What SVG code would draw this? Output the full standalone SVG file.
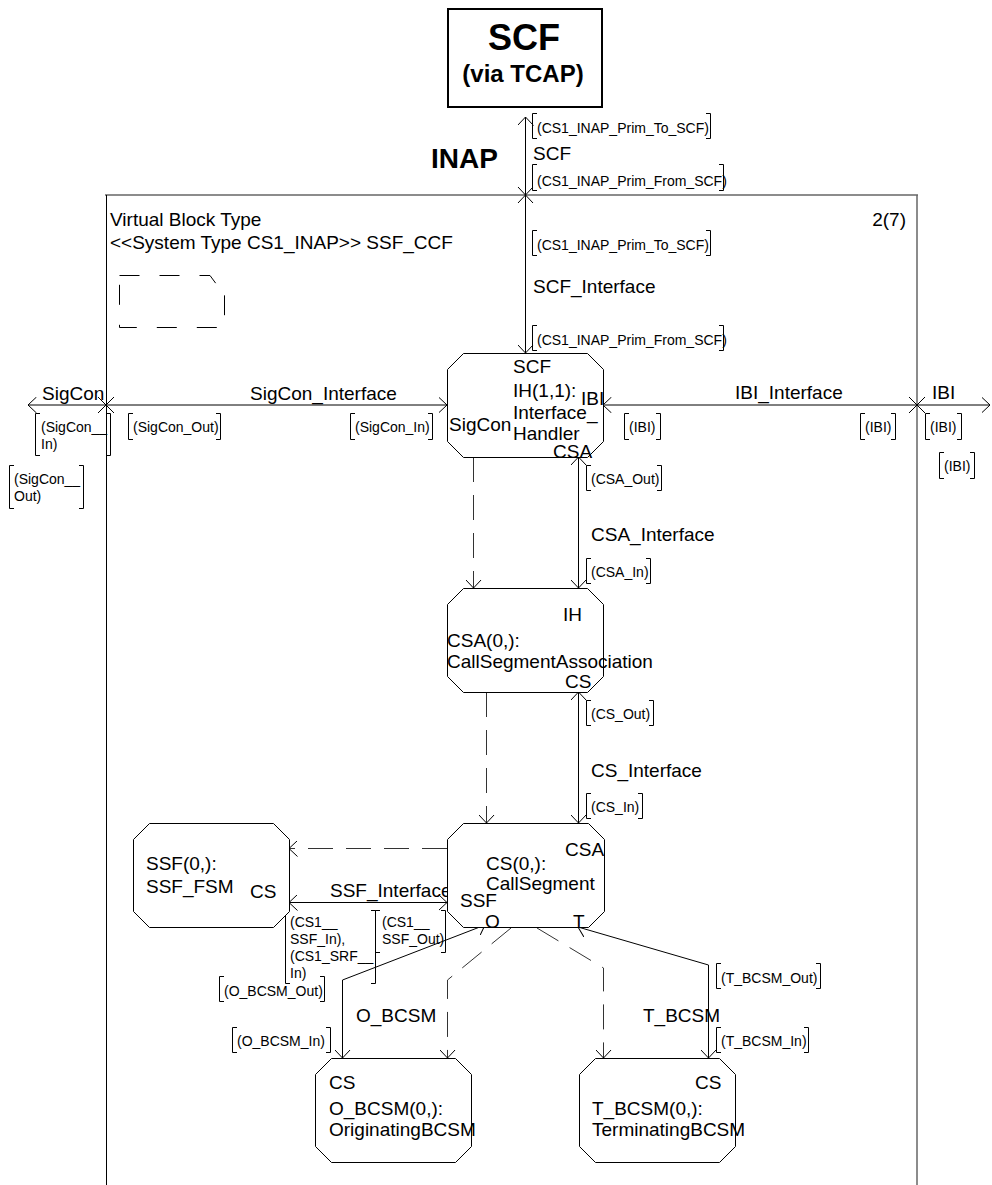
<svg xmlns="http://www.w3.org/2000/svg" width="992" height="1185" viewBox="0 0 992 1185">
<style>
text{font-family:"Liberation Sans",Arial,Helvetica,sans-serif;fill:#000}
.t{font-size:19px}
.s{font-size:14px}
.b{font-weight:bold}
.ln{stroke:#000;stroke-width:1;fill:none}
.dl{stroke:#333;stroke-width:1;fill:none;stroke-dasharray:25 13}
.fr{stroke:#666;stroke-width:1.5;fill:none}
.nd{fill:#fff;stroke:#000;stroke-width:1}
.br{stroke:#000;stroke-width:1;fill:none}
</style>
<defs>
<marker id="a" viewBox="0 0 9 16" refX="8.5" refY="8" markerWidth="9" markerHeight="16" markerUnits="userSpaceOnUse" orient="auto-start-reverse">
<path d="M0,0 L8.5,8 L0,16" fill="none" stroke="#000" stroke-width="1"/>
</marker>
</defs>

<!-- frame -->
<g id="frame">
<line class="fr" x1="105" y1="195" x2="918" y2="195"/>
<line class="ln" x1="106.5" y1="195" x2="106.5" y2="1185"/>
<line class="fr" x1="917" y1="195" x2="917" y2="1185"/>
<text class="t" x="110" y="226">Virtual Block Type</text>
<text class="t" x="110" y="249">&lt;&lt;System Type CS1_INAP&gt;&gt; SSF_CCF</text>
<text class="t" x="906" y="226" text-anchor="end">2(7)</text>
<path d="M119.5,275.5 H210 L217,285 V295.5 H224.5 V327.5 H119.5 Z" fill="none" stroke="#000" stroke-dasharray="20 20"/>
</g>

<g id="SCF_env">
<rect x="448" y="9" width="154" height="98" fill="#fff" stroke="#000" stroke-width="2"/>
<text class="b" x="524" y="50" font-size="36" text-anchor="middle">SCF</text>
<text class="b" x="523" y="82" font-size="24" text-anchor="middle">(via TCAP)</text>
</g>
<text class="b" x="431" y="168" font-size="28">INAP</text>

<!-- connectors -->
<g id="connectors">
<!-- SCF channel -->
<line class="ln" x1="525.5" y1="117" x2="525.5" y2="353" marker-start="url(#a)" marker-end="url(#a)"/>
<path class="ln" d="M518,187 L533,203 M533,187 L518,203"/>
<!-- SigCon channel -->
<line class="ln" x1="28" y1="405" x2="447" y2="405" marker-start="url(#a)" marker-end="url(#a)"/>
<path class="ln" d="M98,397 L114,413 M114,397 L98,413"/>
<!-- IBI channel -->
<line class="ln" x1="603" y1="405" x2="990" y2="405" marker-start="url(#a)" marker-end="url(#a)"/>
<path class="ln" d="M909,397 L925,413 M925,397 L909,413"/>
<!-- CSA interface -->
<line class="ln" x1="578.5" y1="457" x2="578.5" y2="588" marker-start="url(#a)" marker-end="url(#a)"/>
<!-- CS interface -->
<line class="ln" x1="578.5" y1="692" x2="578.5" y2="823" marker-start="url(#a)" marker-end="url(#a)"/>
<!-- SSF interface -->
<line class="ln" x1="289" y1="902.5" x2="447" y2="902.5" marker-start="url(#a)" marker-end="url(#a)"/>
<!-- O_BCSM -->
<path class="ln" d="M485,925 L342.5,980 L342.5,1058" marker-start="url(#a)" marker-end="url(#a)"/>
<!-- T_BCSM -->
<path class="ln" d="M578,927 L708.5,965 L708.5,1058" marker-start="url(#a)" marker-end="url(#a)"/>
<!-- create lines -->
<line class="dl" x1="473.5" y1="457" x2="473.5" y2="588" marker-end="url(#a)"/>
<line class="dl" x1="486.5" y1="692" x2="486.5" y2="823" marker-end="url(#a)"/>
<line class="dl" x1="447" y1="848.5" x2="289" y2="848.5" marker-end="url(#a)"/>
<path class="dl" d="M511,928 L447.5,980 L447.5,1058" marker-end="url(#a)"/>
<path class="dl" d="M537,928 L603.5,968 L603.5,1058" marker-end="url(#a)"/>
</g>

<!-- labels and signal lists -->
<g id="labels">
<path class="br" d="M537,113.5 H532.5 V138.5 H537 M706,113.5 H710.5 V138.5 H706"/>
<text class="s" x="537" y="133">(CS1_INAP_Prim_To_SCF)</text>
<text class="t" x="533" y="160">SCF</text>
<path class="br" d="M537,164.5 H532.5 V190.5 H537 M719,164.5 H723.5 V190.5 H719"/>
<text class="s" x="537" y="186">(CS1_INAP_Prim_From_SCF)</text>

<path class="br" d="M537,230.5 H532.5 V255.5 H537 M706,230.5 H710.5 V255.5 H706"/>
<text class="s" x="537" y="250">(CS1_INAP_Prim_To_SCF)</text>
<text class="t" x="533" y="293">SCF_Interface</text>
<path class="br" d="M537,325.5 H532.5 V350.5 H537 M719,325.5 H723.5 V350.5 H719"/>
<text class="s" x="537" y="345">(CS1_INAP_Prim_From_SCF)</text>

<text class="t" x="42" y="400">SigCon</text>
<text class="t" x="250" y="400">SigCon_Interface</text>
<path class="br" d="M40,413.5 H35.5 V455.5 H40 M106,413.5 H110.5 V455.5 H106"/>
<text class="s" x="41" y="432">(SigCon__</text>
<text class="s" x="41" y="449">In)</text>
<path class="br" d="M14,465.5 H9.5 V508.5 H14 M79,465.5 H83.5 V508.5 H79"/>
<text class="s" x="14" y="484">(SigCon__</text>
<text class="s" x="14" y="501">Out)</text>
<path class="br" d="M133,413.5 H128.5 V439.5 H133 M216,413.5 H220.5 V439.5 H216"/>
<text class="s" x="133" y="432">(SigCon_Out)</text>
<path class="br" d="M355,413.5 H350.5 V439.5 H355 M428,413.5 H432.5 V439.5 H428"/>
<text class="s" x="355" y="432">(SigCon_In)</text>

<text class="t" x="735" y="399">IBI_Interface</text>
<text class="t" x="932" y="399">IBI</text>
<path class="br" d="M629,413.5 H624.5 V439.5 H629 M656,413.5 H660.5 V439.5 H656"/>
<text class="s" x="629" y="432">(IBI)</text>
<path class="br" d="M865,413.5 H860.5 V439.5 H865 M891,413.5 H895.5 V439.5 H891"/>
<text class="s" x="865" y="432">(IBI)</text>
<path class="br" d="M930,413.5 H925.5 V439.5 H930 M957,413.5 H961.5 V439.5 H957"/>
<text class="s" x="930" y="432">(IBI)</text>
<path class="br" d="M944,452.5 H939.5 V478.5 H944 M970,452.5 H974.5 V478.5 H970"/>
<text class="s" x="944" y="471">(IBI)</text>

<path class="br" d="M591,465.5 H586.5 V490.5 H591 M657,465.5 H661.5 V490.5 H657"/>
<text class="s" x="591" y="484">(CSA_Out)</text>
<text class="t" x="591" y="541">CSA_Interface</text>
<path class="br" d="M591,558.5 H586.5 V583.5 H591 M646,558.5 H650.5 V583.5 H646"/>
<text class="s" x="591" y="577">(CSA_In)</text>

<path class="br" d="M591,700.5 H586.5 V725.5 H591 M649,700.5 H653.5 V725.5 H649"/>
<text class="s" x="591" y="719">(CS_Out)</text>
<text class="t" x="591" y="777">CS_Interface</text>
<path class="br" d="M591,793.5 H586.5 V818.5 H591 M638,793.5 H642.5 V818.5 H638"/>
<text class="s" x="591" y="812">(CS_In)</text>

<text class="t" x="330" y="897">SSF_Interface</text>
<path class="br" d="M290,910.5 H285.5 V983.5 H290 M371,910.5 H375.5 V983.5 H371"/>
<text class="s" x="290" y="927">(CS1__</text>
<text class="s" x="290" y="944">SSF_In),</text>
<text class="s" x="290" y="961">(CS1_SRF__</text>
<text class="s" x="290" y="978">In)</text>
<path class="br" d="M380,910.5 H375.5 V952.5 H380 M441,910.5 H445.5 V952.5 H441"/>
<text class="s" x="382" y="927">(CS1__</text>
<text class="s" x="382" y="944">SSF_Out)</text>

<path class="br" d="M224,976.5 H219.5 V1001.5 H224 M320,976.5 H324.5 V1001.5 H320"/>
<text class="s" x="224" y="996">(O_BCSM_Out)</text>
<path class="br" d="M237,1027.5 H232.5 V1052.5 H237 M326,1027.5 H330.5 V1052.5 H326"/>
<text class="s" x="237" y="1046">(O_BCSM_In)</text>
<text class="t" x="356" y="1022">O_BCSM</text>

<path class="br" d="M721,963.5 H716.5 V988.5 H721 M816,963.5 H820.5 V988.5 H816"/>
<text class="s" x="721" y="983">(T_BCSM_Out)</text>
<path class="br" d="M721,1027.5 H716.5 V1052.5 H721 M804,1027.5 H808.5 V1052.5 H804"/>
<text class="s" x="721" y="1046">(T_BCSM_In)</text>
<text class="t" x="643" y="1022">T_BCSM</text>
</g>

<!-- nodes -->
<g id="IH">
<polygon class="nd" points="463.5,353.5 587.5,353.5 603.5,369.5 603.5,441.5 587.5,457.5 463.5,457.5 447.5,441.5 447.5,369.5"/>
<text class="t" x="513" y="373">SCF</text>
<text class="t" x="513" y="397">IH(1,1):</text>
<text class="t" x="513" y="419">Interface_</text>
<text class="t" x="513" y="440">Handler</text>
<text class="t" x="449" y="431">SigCon</text>
<text class="t" x="581" y="405">IBI</text>
<text class="t" x="553" y="458">CSA</text>
</g>
<g id="CSA">
<polygon class="nd" points="463.5,588.5 587.5,588.5 603.5,604.5 603.5,676.5 587.5,692.5 463.5,692.5 447.5,676.5 447.5,604.5"/>
<text class="t" x="563" y="621">IH</text>
<text class="t" x="447" y="647">CSA(0,):</text>
<text class="t" x="447" y="668">CallSegmentAssociation</text>
<text class="t" x="565" y="688">CS</text>
</g>
<g id="CS">
<polygon class="nd" points="463.5,823.5 588.5,823.5 604.5,839.5 604.5,911.5 588.5,927.5 463.5,927.5 447.5,911.5 447.5,839.5"/>
<text class="t" x="565" y="856">CSA</text>
<text class="t" x="486" y="870">CS(0,):</text>
<text class="t" x="486" y="890">CallSegment</text>
<text class="t" x="460" y="907">SSF</text>
<text class="t" x="485" y="928">O</text>
<text class="t" x="573" y="928">T</text>
</g>
<g id="SSF">
<polygon class="nd" points="149.5,823.5 273.5,823.5 289.5,839.5 289.5,911.5 273.5,927.5 149.5,927.5 133.5,911.5 133.5,839.5"/>
<text class="t" x="146" y="870">SSF(0,):</text>
<text class="t" x="146" y="893">SSF_FSM</text>
<text class="t" x="250" y="898">CS</text>
</g>
<g id="O_BCSM">
<polygon class="nd" points="331.5,1058.5 455.5,1058.5 471.5,1074.5 471.5,1146.5 455.5,1162.5 331.5,1162.5 315.5,1146.5 315.5,1074.5"/>
<text class="t" x="329" y="1089">CS</text>
<text class="t" x="329" y="1115">O_BCSM(0,):</text>
<text class="t" x="329" y="1136">OriginatingBCSM</text>
</g>
<g id="T_BCSM">
<polygon class="nd" points="595.5,1058.5 719.5,1058.5 735.5,1074.5 735.5,1146.5 719.5,1162.5 595.5,1162.5 579.5,1146.5 579.5,1074.5"/>
<text class="t" x="695" y="1089">CS</text>
<text class="t" x="592" y="1115">T_BCSM(0,):</text>
<text class="t" x="592" y="1136">TerminatingBCSM</text>
</g>
</svg>
